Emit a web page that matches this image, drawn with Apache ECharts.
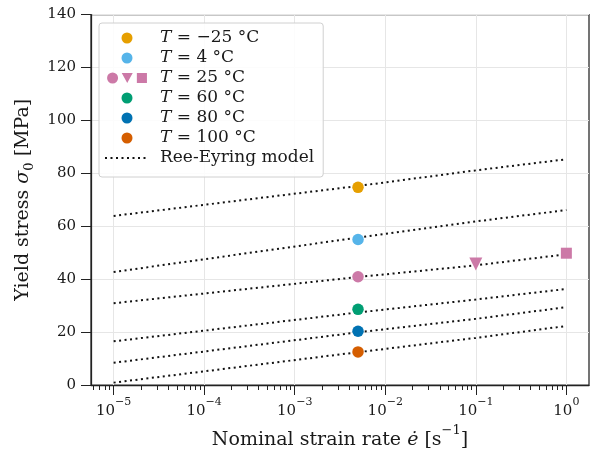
<!DOCTYPE html>
<html><head><meta charset="utf-8">
<script src="https://cdn.jsdelivr.net/npm/echarts@6/dist/echarts.min.js"></script>
<style>html,body{margin:0;padding:0;background:#fff}#c{width:595px;height:454px}</style>
</head><body><div id="c"></div>
<script>
// ---------------- data ----------------
const tempLabels = ['T = −25 °C', 'T = 4 °C', 'T = 25 °C', 'T = 60 °C', 'T = 80 °C', 'T = 100 °C'];
const modelLabel = 'Ree-Eyring model';
const colors = ['#E69F00', '#56B4E9', '#CC79A7', '#009E73', '#0072B2', '#D55E00'];
const markerRate = 5e-3;                       // s^-1
const markerStress = [74.7, 55.0, 40.9, 28.6, 20.3, 12.5]; // MPa
const extraRates25 = [0.1, 1.0];
const extraStress25 = [45.7, 49.8];
const modelRates = [1e-5, 5e-3, 1e-1, 1e0];
const modelM25 = [63.9, 75.2, 81.1, 85.3];
const model4   = [42.7, 55.7, 61.8, 66.1];
const model25  = [30.9, 40.8, 45.2, 49.4];
const model60  = [16.5, 27.4, 32.3, 36.3];
const model80  = [8.4, 19.9, 25.0, 29.4];
const model100 = [0.9, 12.4, 17.8, 22.3];
const majorExponents = [-5, -4, -3, -2, -1, 0];
const yTicks = [0, 20, 40, 60, 80, 100, 120, 140];

// ---------------- helpers ----------------
const FONT = 'DejaVu Serif';
const TXT = '#1a1a1a';
const lg = Math.log10;
const xMin = -5.25, xMax = 0.25;
const minorTicks = [];
for (let n = -6; n <= 0; n++) {
  for (let k = 2; k <= 9; k++) {
    const v = lg(k * Math.pow(10, n));
    if (v >= xMin && v <= xMax) minorTicks.push(v);
  }
}
const models = [modelM25, model4, model25, model60, model80, model100];

const series = [];
models.forEach(m => {
  series.push({
    name: modelLabel, type: 'line', silent: true, z: 2,
    symbol: 'none', showSymbol: false,
    itemStyle: { color: '#111' },
    lineStyle: { color: '#111', width: 2, type: [2, 3.5] },
    data: modelRates.map((r, i) => [lg(r), m[i]])
  });
});
tempLabels.forEach((name, i) => {
  const data = [[lg(markerRate), markerStress[i]]];
  if (i === 2) {
    data.push({ value: [lg(extraRates25[0]), extraStress25[0]], symbol: 'triangle', symbolRotate: 180, symbolSize: 13 });
    data.push({ value: [lg(extraRates25[1]), extraStress25[1]], symbol: 'rect', symbolSize: 11 });
  }
  series.push({
    name, type: 'scatter', z: 5, symbol: 'circle', symbolSize: 11.5,
    itemStyle: { color: colors[i], opacity: 1 },
    data
  });
});

const icon25 = 'path://M0,6 A6,6 0 1,1 12,6 A6,6 0 1,1 0,6 Z M16,0.5 L28,0.5 L22,11.5 Z M32.5,0.5 L43.5,0.5 L43.5,11.5 L32.5,11.5 Z';
const legendData = tempLabels.map((n, i) => i === 2 ? { name: n, icon: icon25 } : { name: n });
legendData.push({ name: modelLabel, itemStyle: { opacity: 0 } });

const supExp = e => (e < 0 ? '−' + Math.abs(e) : String(e));
const gridRect = { left: 91, right: 6, top: 14.5, bottom: 69, containLabel: false, outerBoundsMode: 'none' };

const option = {
  animation: false,
  backgroundColor: '#fff',
  textStyle: { fontFamily: FONT },
  grid: [
    Object.assign({ show: true, borderColor: '#222', borderWidth: 1.25, backgroundColor: 'transparent' }, gridRect),
    Object.assign({ show: false }, gridRect)
  ],
  legend: {
    orient: 'vertical', left: 99, top: 23, padding: [5, 9, 9, 5],
    itemWidth: 44, itemHeight: 11, itemGap: 0, selectedMode: false,
    backgroundColor: 'rgba(255,255,255,0.85)', borderColor: '#d0d0d0', borderWidth: 1, borderRadius: 3,
    data: legendData,
    formatter: n => n.replace(/^T/, '{i|T}'),
    textStyle: {
      fontFamily: FONT, fontSize: 17, color: TXT, lineHeight: 20, padding: [0, 0, 0, 6],
      rich: { i: { fontFamily: FONT, fontStyle: 'italic', fontSize: 17, lineHeight: 20, color: TXT } }
    }
  },
  xAxis: [{
    type: 'value', min: xMin, max: xMax, position: 'bottom', gridIndex: 0,
    axisLine: { show: true, onZero: false, lineStyle: { color: '#222', width: 1.25 } },
    axisTick: { show: true, customValues: majorExponents, length: 10, lineStyle: { color: '#222', width: 1 } },
    axisLabel: {
      customValues: majorExponents, margin: 12, color: TXT,
      formatter: v => '{b|10}{s|' + supExp(Math.round(v)) + '}',
      rich: {
        b: { fontFamily: FONT, fontSize: 15, lineHeight: 22, verticalAlign: 'bottom', color: TXT },
        s: { fontFamily: FONT, fontSize: 11, lineHeight: 13, verticalAlign: 'top', color: TXT }
      }
    },
    splitLine: { show: true, lineStyle: { color: '#e6e6e6', width: 1 } },
    name: '{n|Nominal strain rate }{g|ė}{n| [s}{p|−1}{n|]}',
    nameLocation: 'middle', nameGap: 38,
    nameTextStyle: {
      rich: {
        n: { fontFamily: FONT, fontSize: 19, lineHeight: 26, verticalAlign: 'bottom', color: TXT },
        g: { fontFamily: FONT, fontSize: 19, fontStyle: 'italic', lineHeight: 26, verticalAlign: 'bottom', color: TXT },
        p: { fontFamily: FONT, fontSize: 13, lineHeight: 14, verticalAlign: 'top', color: TXT }
      }
    }
  }, {
    type: 'value', min: xMin, max: xMax, position: 'bottom', gridIndex: 1,
    axisLine: { show: false, onZero: false },
    axisTick: { show: true, customValues: minorTicks, length: 5, lineStyle: { color: '#222', width: 1 } },
    axisLabel: { show: false },
    splitLine: { show: false }
  }],
  yAxis: [{
    type: 'value', min: yTicks[0], max: yTicks[yTicks.length - 1], interval: 20, gridIndex: 0,
    axisLine: { show: true, onZero: false, lineStyle: { color: '#222', width: 1.25 } },
    axisTick: { show: true, length: 10, lineStyle: { color: '#222', width: 1 } },
    axisLabel: { fontFamily: FONT, fontSize: 15, color: TXT, margin: 15 },
    splitLine: { show: true, lineStyle: { color: '#e6e6e6', width: 1 } },
    name: '{n|Yield stress }{g|σ}{b|0}{n| [MPa]}',
    nameLocation: 'middle', nameGap: 52, nameRotate: 90,
    nameTextStyle: {
      rich: {
        n: { fontFamily: FONT, fontSize: 19, lineHeight: 26, color: TXT },
        g: { fontFamily: FONT, fontSize: 19, fontStyle: 'italic', lineHeight: 26, color: TXT },
        b: { fontFamily: FONT, fontSize: 13, lineHeight: 12, verticalAlign: 'bottom', color: TXT }
      }
    }
  }, {
    type: 'value', min: 0, max: 140, gridIndex: 1, show: false,
    axisLine: { show: false, onZero: false }, splitLine: { show: false }
  }],
  series
};
const chart = echarts.init(document.getElementById('c'), null, { renderer: 'canvas' });
chart.setOption(option);
</script></body></html>
